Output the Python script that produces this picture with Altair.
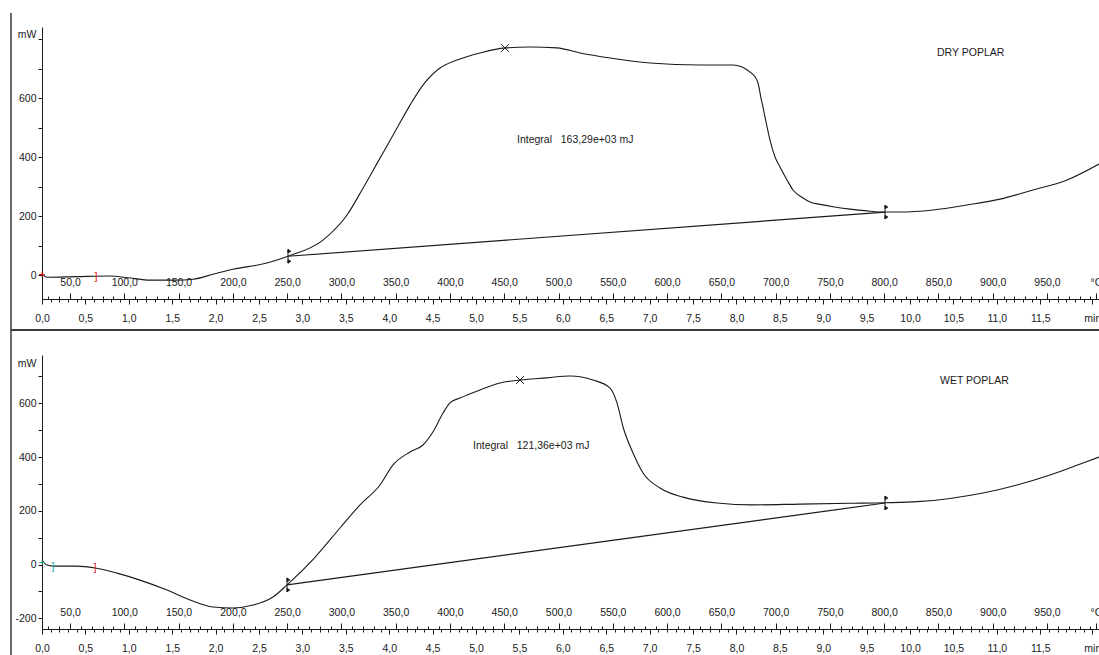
import altair as alt
import pandas as pd

# ---------------- data ----------------
# DRY POPLAR curve: time (min) and heat flow (mW)
dry_t = [0.0, 0.058, 0.403, 0.783, 1.014, 1.244, 1.532, 1.740, 1.970, 2.200, 2.592,
         2.834, 3.237, 3.514, 3.698, 3.894, 4.090, 4.240, 4.389, 4.585, 4.781, 5.046,
         5.334, 5.622, 5.933, 6.198, 6.544, 7.005, 7.581, 7.961, 8.157, 8.214, 8.249,
         8.283, 8.306, 8.353, 8.387, 8.445, 8.502, 8.583, 8.652, 8.767, 8.848, 8.963,
         9.113, 9.309, 9.505, 9.712, 9.885, 10.265, 10.657, 11.037, 11.417, 11.809, 12.177]
dry_mw = [7, -7, -5, -3, -10, -17, -17, -14, 3, 20, 41,
          64, 119, 204, 295, 397, 499, 577, 645, 703, 730, 754,
          771, 774, 771, 754, 737, 720, 713, 713, 689, 673, 652,
          601, 570, 503, 458, 401, 367, 323, 289, 262, 248, 240,
          232, 224, 218, 214, 214, 221, 238, 258, 289, 323, 377]

# WET POPLAR curve
wet_t = [0.0, 0.058, 0.127, 0.403, 0.611, 0.864, 1.129, 1.440, 1.705, 1.970, 2.200,
         2.431, 2.661, 2.823, 3.140, 3.433, 3.664, 3.894, 4.044, 4.240, 4.389, 4.505,
         4.620, 4.700, 4.816, 5.046, 5.276, 5.507, 5.818, 6.083, 6.348, 6.544, 6.624,
         6.694, 6.809, 6.924, 7.120, 7.385, 7.776, 8.191, 8.733, 9.309, 9.712, 10.081,
         10.461, 10.841, 11.233, 11.613, 11.993, 12.177]
wet_mw = [17, -2, -6, -6, -13, -32, -58, -95, -132, -158, -162,
          -151, -121, -76, 25, 136, 222, 296, 371, 419, 445, 494,
          564, 602, 620, 650, 676, 687, 695, 702, 687, 657, 602,
          512, 415, 341, 285, 251, 229, 222, 225, 228, 230, 234,
          246, 266, 296, 333, 378, 400]

# integration baselines (start / end points)
dry_base_t = [2.834, 9.712]
dry_base_mw = [64, 214]
wet_base_t = [2.823, 9.712]
wet_base_mw = [-76, 229]

# peak markers
dry_peak_t = [5.334]
dry_peak_mw = [771]
wet_peak_t = [5.507]
wet_peak_mw = [687]

# small evaluation markers near the start
dry_mark_text = ["+", "]"]
dry_mark_t = [0.0, 0.622]
dry_mark_mw = [2, -7]
dry_mark_color = ["#e0201a", "#e0201a"]
wet_mark_text = ["+", "]", "]"]
wet_mark_t = [0.0, 0.127, 0.611]
wet_mark_mw = [6, -9, -13]
wet_mark_color = ["#17b3b3", "#17b3b3", "#e0201a"]

# annotations
dry_notes = ["DRY POPLAR", "Integral\u00a0\u00a0\u00a0163,29e+03 mJ"]
dry_notes_t = [10.311, 5.472]
dry_notes_mw = [754, 458]
wet_notes = ["WET POPLAR", "Integral\u00a0\u00a0\u00a0121,36e+03 mJ"]
wet_notes_t = [10.346, 4.965]
wet_notes_mw = [683, 441]

# axis tick values
time_ticks = [0.0, 0.5, 1.0, 1.5, 2.0, 2.5, 3.0, 3.5, 4.0, 4.5, 5.0, 5.5, 6.0, 6.5,
              7.0, 7.5, 8.0, 8.5, 9.0, 9.5, 10.0, 10.5, 11.0, 11.5]
time_unit_pos = [12.1]
time_minor = [round(i * 0.1, 1) for i in range(0, 122)]
temp_ticks = [50, 100, 150, 200, 250, 300, 350, 400, 450, 500, 550, 600, 650, 700,
              750, 800, 850, 900, 950]
temp_unit_pos = [995]
temp_minor = list(range(30, 1000, 10))
top_y_ticks = [0, 100, 200, 300, 400, 500, 600, 700, 800]
bot_y_ticks = [-200, -100, 0, 100, 200, 300, 400, 500, 600, 700]

# ---------------- layout / style ----------------
PLOT_W, PLOT_H = 1057, 602
T_DOMAIN = [0, 12.177]
TEMP_DOMAIN = [24.2, 997.9]
TOP_DOMAIN, TOP_RANGE = [-81, 842], [272, 0]
BOT_DOMAIN, BOT_RANGE = [-240, 780], [602, 328]
INK = "#1a1a1a"
FONT = "Liberation Sans"
FS = 10.5

TIME_LABEL = ("datum.value > 12 ? 'min' : "
              "replace(format(datum.value, '.1f'), '.', ',')")
TEMP_LABEL = ("datum.value > 990 ? '\u00b0C' : "
              "replace(format(datum.value, '.1f'), '.', ',')")


def x_time(axis=None):
    return alt.X("t:Q", scale=alt.Scale(domain=T_DOMAIN, nice=False, zero=False), axis=axis)


def y_panel(top, axis=None):
    dom, rng = (TOP_DOMAIN, TOP_RANGE) if top else (BOT_DOMAIN, BOT_RANGE)
    return alt.Y("mw:Q", scale=alt.Scale(domain=dom, range=rng, nice=False, zero=False), axis=axis)


def time_axis(offset):
    return alt.Axis(orient="bottom", offset=offset, values=time_ticks + time_unit_pos,
                    labelExpr=TIME_LABEL, tickSize=5, labelPadding=9, domain=True,
                    domainColor=INK, tickColor=INK, labelColor=INK, labelFont=FONT,
                    labelFontSize=FS, labelFlush=False, labelOverlap=False, grid=False,
                    title=None)


def time_minor_axis(offset):
    return alt.Axis(orient="bottom", offset=offset, values=time_minor, labels=False,
                    domain=False, tickSize=3, tickColor=INK, grid=False, title=None)


def temp_axis(offset):
    return alt.Axis(orient="top", offset=offset, values=temp_ticks + temp_unit_pos,
                    labelExpr=TEMP_LABEL, tickSize=6, labelPadding=6, domain=False,
                    tickColor=INK, labelColor=INK, labelFont=FONT, labelFontSize=FS,
                    labelFlush=False, labelOverlap=False, grid=False, title=None)


def temp_minor_axis(offset):
    return alt.Axis(orient="top", offset=offset, values=temp_minor, labels=False,
                    domain=False, tickSize=3, tickColor=INK, grid=False, title=None)


def y_axis(values, expr, title_y):
    return alt.Axis(orient="left", values=values, labelExpr=expr, tickSize=4, labelPadding=2,
                    domainColor=INK, tickColor=INK, labelColor=INK, labelFont=FONT,
                    labelFontSize=FS, labelFlush=False, grid=False, title="mW",
                    titleAngle=0, titleAlign="right", titleBaseline="middle", titleX=-6,
                    titleY=title_y, titleFont=FONT, titleFontSize=FS,
                    titleFontWeight="normal", titleColor=INK)


def temp_layer(offset, minor):
    df = pd.DataFrame({"temp": temp_minor if minor else temp_ticks})
    ax = temp_minor_axis(offset) if minor else temp_axis(offset)
    return alt.Chart(df).mark_point(opacity=0).encode(
        x=alt.X("temp:Q", scale=alt.Scale(domain=TEMP_DOMAIN, nice=False, zero=False), axis=ax),
        y=alt.value(0),
    )


ENDMARK = "M0,-1L0,1M0,-1L0.4,-0.72L0,-0.5ZM0,1L0.4,0.72L0,0.5Z"
CROSS = "M-1,-1L1,1M-1,1L1,-1"


def panel_layers(top, c_t, c_mw, b_t, b_mw, p_t, p_mw, m_txt, m_t, m_mw, m_col,
                 n_txt, n_t, n_mw, x_off, temp_off, yvals, yexpr, title_y):
    curve = alt.Chart(pd.DataFrame({"t": c_t, "mw": c_mw})).mark_line(
        color=INK, strokeWidth=1.1, interpolate="monotone").encode(
        x=x_time(time_axis(x_off)), y=y_panel(top, y_axis(yvals, yexpr, title_y)))
    base = alt.Chart(pd.DataFrame({"t": b_t, "mw": b_mw})).mark_line(
        color=INK, strokeWidth=1.2).encode(
        x=x_time(time_minor_axis(x_off)), y=y_panel(top))
    ends = alt.Chart(pd.DataFrame({"t": b_t, "mw": b_mw})).mark_point(
        shape=ENDMARK, size=190, fill=INK, stroke=INK, strokeWidth=1, opacity=1).encode(
        x=x_time(), y=y_panel(top))
    peak = alt.Chart(pd.DataFrame({"t": p_t, "mw": p_mw})).mark_point(
        shape=CROSS, size=60, stroke=INK, strokeWidth=1, filled=False, opacity=1).encode(
        x=x_time(), y=y_panel(top))
    marks = alt.Chart(pd.DataFrame({"t": m_t, "mw": m_mw, "s": m_txt, "c": m_col})).mark_text(
        font=FONT, fontSize=11, align="center", baseline="middle").encode(
        x=x_time(), y=y_panel(top), text="s:N", color=alt.Color("c:N", scale=None))
    notes = alt.Chart(pd.DataFrame({"t": n_t, "mw": n_mw, "s": n_txt})).mark_text(
        font=FONT, fontSize=10.5, align="left", baseline="middle", color=INK).encode(
        x=x_time(), y=y_panel(top), text="s:N")
    return [curve, base, ends, peak, marks, notes,
            temp_layer(temp_off, False), temp_layer(temp_off, True)]


top_layers = panel_layers(True, dry_t, dry_mw, dry_base_t, dry_base_mw, dry_peak_t, dry_peak_mw,
                          dry_mark_text, dry_mark_t, dry_mark_mw, dry_mark_color,
                          dry_notes, dry_notes_t, dry_notes_mw, -330, -272, top_y_ticks,
                          "datum.value % 200 == 0 && datum.value < 800 ? '' + datum.value : ''", 7)
bot_layers = panel_layers(False, wet_t, wet_mw, wet_base_t, wet_base_mw, wet_peak_t, wet_peak_mw,
                          wet_mark_text, wet_mark_t, wet_mark_mw, wet_mark_color,
                          wet_notes, wet_notes_t, wet_notes_mw, 0, -602, bot_y_ticks,
                          "datum.value % 200 == 0 ? '' + datum.value : ''", 336)

one = pd.DataFrame({"a": [0]})
frame_v = alt.Chart(one).mark_rule(color="#3a3a3a", strokeWidth=1.5).encode(
    x=alt.value(-31), y=alt.value(-14), y2=alt.value(640))
frame_h = alt.Chart(one).mark_rule(color="#3a3a3a", strokeWidth=2).encode(
    x=alt.value(-31), x2=alt.value(PLOT_W + 10), y=alt.value(303))

chart = alt.layer(*(top_layers + bot_layers + [frame_v, frame_h])).resolve_scale(
    x="independent", y="independent").resolve_axis(
    x="independent", y="independent").properties(
    width=PLOT_W, height=PLOT_H,
    autosize=alt.AutoSizeParams(type="none"),
    padding={"left": 42, "top": 27, "right": 0, "bottom": 26},
    background="white",
).configure_view(stroke=None)

chart.save("out.html", embed_options={"renderer": "svg", "actions": False})
